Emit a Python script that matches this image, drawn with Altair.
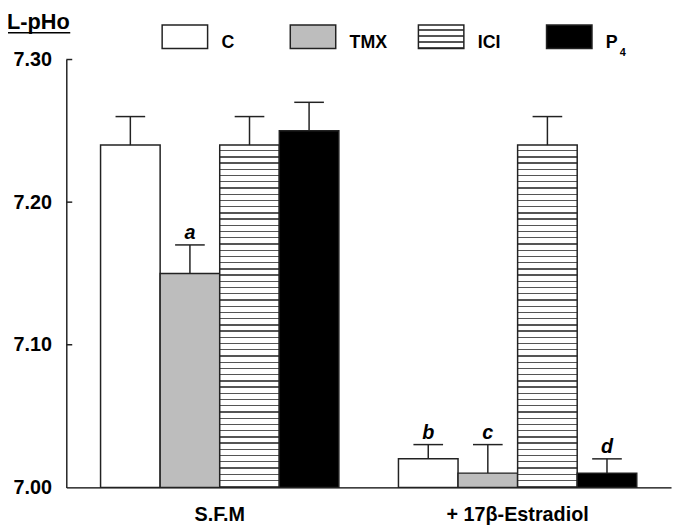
import altair as alt
import pandas as pd

# ---- data ----
groups = ["S.F.M", "+ 17β-Estradiol"]
series = ["C", "TMX", "ICI", "P4"]
sfm_values = [7.24, 7.15, 7.24, 7.25]
sfm_errors = [0.02, 0.02, 0.02, 0.02]
est_values = [7.02, 7.01, 7.24, 7.01]
est_errors = [0.01, 0.02, 0.02, 0.01]
sfm_letters = ["", "a", "", ""]
est_letters = ["b", "c", "", "d"]
y_ticks = [7.00, 7.10, 7.20, 7.30]
legend_labels = ["C", "TMX", "ICI", "P"]
legend_subs = ["", "", "", "4"]
y_title = "L-pHo"

rows = []
for g, vals, errs, lets in [(groups[0], sfm_values, sfm_errors, sfm_letters),
                            (groups[1], est_values, est_errors, est_letters)]:
    for s, v, e, l in zip(series, vals, errs, lets):
        rows.append({"group": g, "series": s, "value": v, "top": round(v + e, 3), "letter": l})
df = pd.DataFrame(rows)

FONT = "Liberation Sans"
INK = "#222222"


def stripes(n, frac, line="#555555"):
    stops = []
    for k in range(n):
        a = k / n
        b = (k + 1) / n
        m = b - frac / n
        stops += [alt.GradientStop(offset=a, color="white"),
                  alt.GradientStop(offset=m, color="white"),
                  alt.GradientStop(offset=m, color=line),
                  alt.GradientStop(offset=b, color=line)]
    return alt.LinearGradient(gradient="linear", stops=stops, x1=0, x2=0, y1=0, y2=1)


bar_fills = {"C": "white", "TMX": "#bdbdbd", "ICI": stripes(55, 0.22), "P4": "black"}
legend_fills = {"C": "white", "TMX": "#bdbdbd", "ICI": stripes(4, 0.25), "P4": "black"}

yscale = alt.Scale(domain=[7.0, 7.3], zero=False, nice=False)
yaxis = alt.Axis(values=y_ticks, format=".2f", ticks=False, tickSize=0, grid=False,
                 labelFont=FONT, labelFontSize=20, labelFontWeight="bold", labelColor="black",
                 labelPadding=15, domainColor=INK, domainWidth=1.5, title=None)
xscale = alt.Scale(domain=groups, paddingInner=0.2, paddingOuter=0.115)
xaxis = alt.Axis(ticks=False, tickSize=0, labelAngle=0, labelFont=FONT, labelFontSize=20,
                 labelFontWeight="bold", labelColor="black", labelPadding=18,
                 domainColor="black", domainWidth=1.5, title=None)


def Y(field):
    return alt.Y(field, scale=yscale, axis=yaxis, title=None)


base = alt.Chart(df).encode(
    x=alt.X("group:N", scale=xscale, axis=xaxis, sort=groups, title=None),
    xOffset=alt.XOffset("series:N", scale=alt.Scale(domain=series, paddingInner=0, paddingOuter=0)),
)

bar_layers = [
    base.transform_filter(alt.datum.series == s)
    .mark_bar(fill=bar_fills[s], stroke=INK, strokeWidth=1.5)
    .encode(y=Y("value:Q"), y2=alt.datum(7.0))
    for s in series
]

err_rules = base.mark_rule(stroke=INK, strokeWidth=1.5).encode(y=Y("value:Q"), y2="top:Q")
err_caps = base.mark_tick(size=30, thickness=1.5, color=INK, orient="horizontal", opacity=1).encode(y=Y("top:Q"))
letters = base.transform_filter(alt.datum.letter != "").mark_text(
    font=FONT, fontSize=20, fontStyle="italic", fontWeight="bold", color="black",
    baseline="alphabetic", align="center", dy=-6
).encode(y=Y("top:Q"), text="letter:N")

tick_df = pd.DataFrame({"t": y_ticks[1:]})
axis_ticks = alt.Chart(tick_df).mark_rule(stroke=INK, strokeWidth=1.5).encode(
    y=Y("t:Q"), x=alt.value(0), x2=alt.value(6)
)

one = pd.DataFrame({"k": [0]})
title_text = alt.Chart(one).mark_text(
    text=y_title, font=FONT, fontSize=22, fontWeight="bold", color="black",
    align="left", baseline="alphabetic"
).encode(x=alt.value(-60), y=alt.value(-31))
title_line = alt.Chart(one).mark_rule(stroke="black", strokeWidth=1.5).encode(
    x=alt.value(-60), x2=alt.value(4), y=alt.value(-27)
)

main = alt.layer(*bar_layers, err_rules, err_caps, letters, axis_ticks, title_text, title_line)

# ---- legend ----
leg_df = pd.DataFrame({"series": series, "label": legend_labels, "sub": legend_subs})
lx = alt.X("series:N", scale=alt.Scale(type="point", domain=series, range=[120, 509], padding=0),
           axis=None, title=None)
box_path = "M-1,-0.52L1,-0.52L1,0.52L-1,0.52Z"
leg_base = alt.Chart(leg_df).encode(x=lx)
leg_boxes = [
    leg_base.transform_filter(alt.datum.series == s)
    .mark_point(shape=box_path, size=2116, filled=True, fill=legend_fills[s],
                stroke=INK, strokeWidth=1.5, opacity=1)
    .encode(y=alt.value(-23))
    for s in series
]
leg_text = leg_base.mark_text(font=FONT, fontSize=18, fontWeight="bold", color="black",
                              align="left", baseline="alphabetic", dx=37).encode(
    y=alt.value(-12), text="label:N")
leg_sub = leg_base.transform_filter(alt.datum.sub != "").mark_text(
    font=FONT, fontSize=11, fontWeight="bold", color="black",
    align="left", baseline="alphabetic", dx=51).encode(y=alt.value(-4), text="sub:N")

legend = alt.layer(*leg_boxes, leg_text, leg_sub)

chart = alt.layer(main, legend).resolve_scale(x="independent").properties(
    width=612, height=433,
    autosize="none",
    padding={"left": 59, "top": 49, "right": 3, "bottom": 41},
    background="white",
).configure_view(stroke=None)

chart.save("out.html", embed_options={"renderer": "svg", "actions": False})
